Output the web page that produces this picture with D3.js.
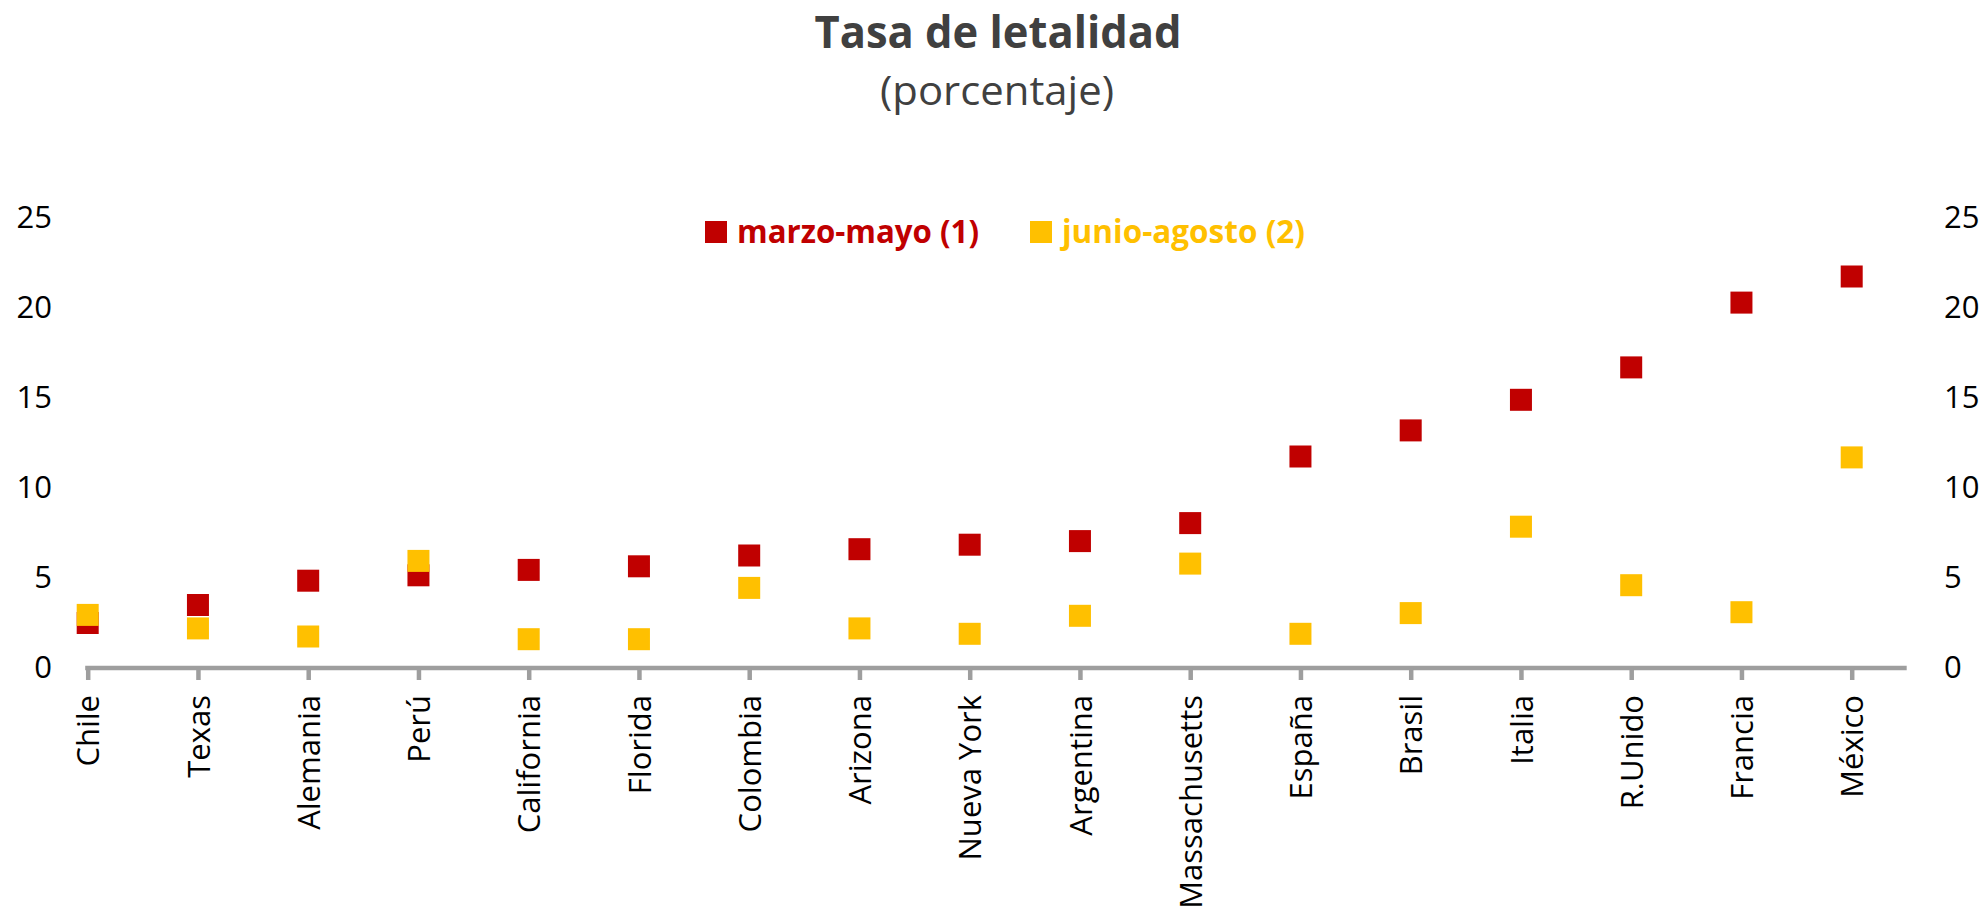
<!DOCTYPE html>
<html>
<head>
<meta charset="utf-8">
<script src="https://cdn.jsdelivr.net/npm/d3@7"></script>
<style>
  body { margin: 0; background: #fff; }
  text { font-family: "Open Sans", sans-serif; }
</style>
</head>
<body>
<div id="chart"></div>
<script>
var paises = ["Chile", "Texas", "Alemania", "Perú", "California", "Florida", "Colombia", "Arizona",
  "Nueva York", "Argentina", "Massachusetts", "España", "Brasil", "Italia", "R.Unido", "Francia", "México"];
var marzoMayo = [2.5, 3.5, 4.85, 5.15, 5.45, 5.65, 6.25, 6.6, 6.85, 7.05, 8.05, 11.75, 13.2, 14.9, 16.7, 20.3, 21.75];
var junioAgosto = [2.95, 2.2, 1.75, 5.95, 1.6, 1.6, 4.45, 2.2, 1.9, 2.9, 5.8, 1.9, 3.05, 7.85, 4.6, 3.1, 11.7];
var yTicks = [0, 5, 10, 15, 20, 25];
var series = [
  { name: "marzo-mayo (1)", color: "#C00000", values: marzoMayo },
  { name: "junio-agosto (2)", color: "#FFC000", values: junioAgosto }
];

(function() {
  var width = 1985,
    height = 918;

  var svg = d3.select("#chart")
    .append("svg")
    .attr("width", width)
    .attr("height", height)

  var x = d3.scalePoint().domain(paises).range([87.7, 1851.7])
  var y = d3.scaleLinear().domain([0, 25]).range([668, 218])

  // titulo
  svg.append("text")
    .attr("x", 998).attr("y", 48)
    .attr("text-anchor", "middle")
    .attr("font-size", 45).attr("font-weight", "bold")
    .attr("fill", "#404040")
    .attr("textLength", 367).attr("lengthAdjust", "spacingAndGlyphs")
    .text("Tasa de letalidad")

  svg.append("text")
    .attr("x", 997).attr("y", 105)
    .attr("text-anchor", "middle")
    .attr("font-size", 41)
    .attr("fill", "#404040")
    .attr("textLength", 234).attr("lengthAdjust", "spacingAndGlyphs")
    .text("(porcentaje)")

  // ejes y
  var yLeft = svg.append("g")
    .attr("transform", "translate(52,0)")
    .call(d3.axisLeft(y).tickValues(yTicks).tickSize(0).tickPadding(0))
  var yRight = svg.append("g")
    .attr("transform", "translate(1944,0)")
    .call(d3.axisRight(y).tickValues(yTicks).tickSize(0).tickPadding(0))
  svg.selectAll(".domain").remove()
  svg.selectAll(".tick text")
    .attr("font-size", 31)
    .attr("font-family", "'Open Sans', sans-serif")
    .attr("fill", "#000")

  // eje x
  svg.append("line")
    .attr("x1", x(paises[0]) - 2.5).attr("x2", x(paises[paises.length - 1]) + 55)
    .attr("y1", y(0)).attr("y2", y(0))
    .attr("stroke", "#9e9e9e").attr("stroke-width", 4.5)

  var xAxis = svg.append("g")
    .attr("transform", "translate(0," + y(0) + ")")
    .call(d3.axisBottom(x).tickSize(12).tickPadding(0))
  xAxis.select(".domain").remove()
  xAxis.selectAll(".tick line")
    .attr("stroke", "#9e9e9e").attr("stroke-width", 4.5)
  xAxis.selectAll(".tick text")
    .attr("font-size", 31)
    .attr("font-family", "'Open Sans', sans-serif")
    .attr("fill", "#000")
    .attr("text-anchor", "end")
    .attr("transform", "translate(0,27) rotate(-90)")
    .attr("x", 0)
    .attr("y", 0)
    .attr("dy", "0.36em")

  // marcadores
  var size = 22
  series.forEach(function(s) {
    svg.append("g").selectAll("rect")
      .data(s.values)
      .enter().append("rect")
      .attr("x", function(d, i) { return x(paises[i]) - size / 2 })
      .attr("y", function(d) { return y(d) - size / 2 })
      .attr("width", size)
      .attr("height", size)
      .attr("fill", s.color)
  })

  // leyenda
  var legendX = [705, 1030]
  var legendW = [242, 243]
  series.forEach(function(s, i) {
    svg.append("rect")
      .attr("x", legendX[i]).attr("y", 221)
      .attr("width", 22).attr("height", 22)
      .attr("fill", s.color)
    svg.append("text")
      .attr("x", legendX[i] + 32).attr("y", 243)
      .attr("font-size", 32).attr("font-weight", "bold")
      .attr("fill", s.color)
      .attr("textLength", legendW[i]).attr("lengthAdjust", "spacingAndGlyphs")
      .text(s.name)
  })
})();
</script>
</body>
</html>
